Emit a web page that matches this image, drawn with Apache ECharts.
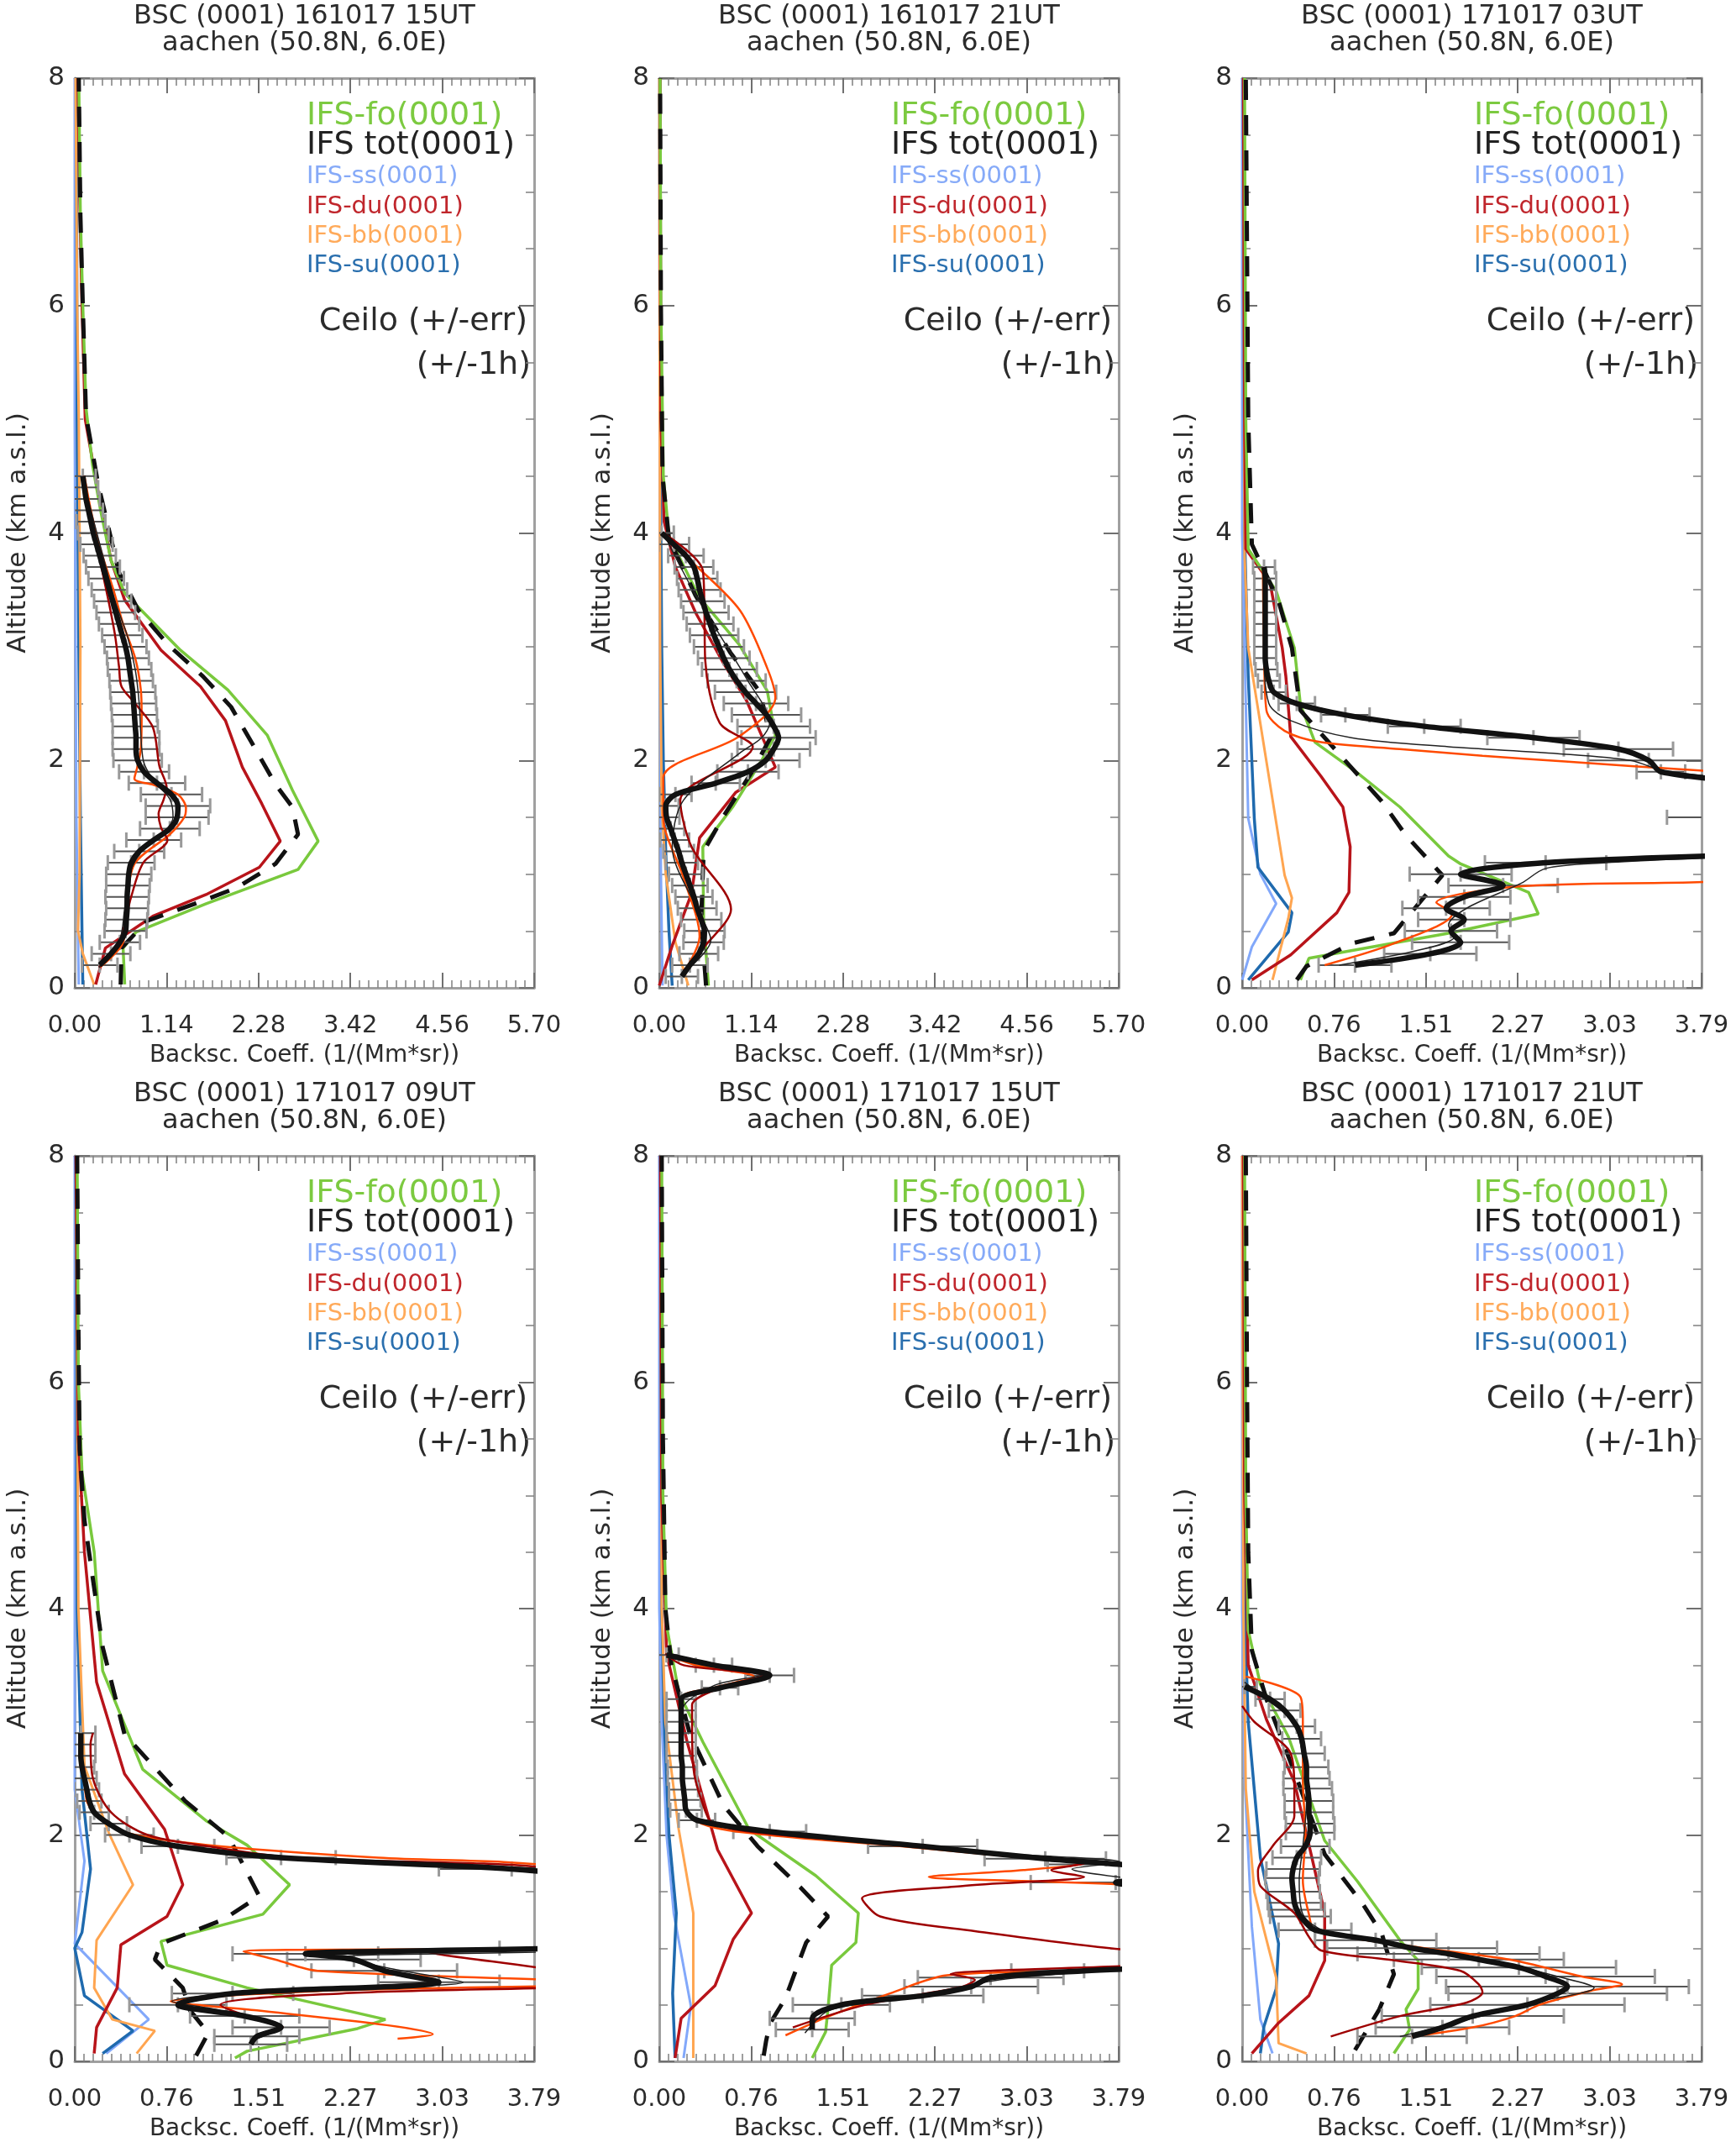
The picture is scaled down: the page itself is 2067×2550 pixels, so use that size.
<!DOCTYPE html>
<html>
<head>
<meta charset="utf-8" />
<title>BSC profiles aachen</title>
<style>
  html, body { margin: 0; padding: 0; background: #fff; }
  #main { width: 2067px; height: 2550px; }
</style>
</head>
<body>
<div id="main"></div>
<script src="https://cdn.jsdelivr.net/npm/echarts@6/dist/echarts.min.js"></script>
<script>
// tick labels
const X_WIDE = ['0.00', '1.14', '2.28', '3.42', '4.56', '5.70'];
const X_NARROW = ['0.00', '0.76', '1.51', '2.27', '3.03', '3.79'];
const Y_LABELS = ['0', '2', '4', '6', '8'];

const TITLES = [
  'BSC (0001) 161017 15UT', 'BSC (0001) 161017 21UT', 'BSC (0001) 171017 03UT',
  'BSC (0001) 171017 09UT', 'BSC (0001) 171017 15UT', 'BSC (0001) 171017 21UT'
];
const STATION = 'aachen (50.8N, 6.0E)';
const LEGEND_ROWS = ['IFS-fo(0001)', 'IFS tot(0001)', 'IFS-ss(0001)', 'IFS-du(0001)', 'IFS-bb(0001)', 'IFS-su(0001)'];

// ---- panel 1 : 161017 15UT  ([backscatter, altitude]) ----
const p1Fo = [[0.62,0.03],[0.60,0.35],[0.76,0.49],[1.63,0.74],[2.77,1.04],[3.02,1.29],[2.70,1.74],[2.39,2.22],[1.90,2.62],[1.31,2.97],[0.62,3.47],[0.45,3.76],[0.32,4.2],[0.22,4.6],[0.14,5.1],[0.10,6.0],[0.07,6.8],[0.05,8.0]];
const p1Tot = [[0.57,0.03],[0.58,0.35],[0.90,0.59],[1.49,0.74],[2.01,0.88],[2.49,1.09],[2.77,1.35],[2.70,1.59],[2.49,1.79],[2.25,2.09],[1.94,2.47],[1.59,2.74],[1.17,3.01],[0.79,3.32],[0.55,3.65],[0.29,4.43],[0.14,5.03],[0.10,6.0],[0.07,6.8],[0.05,8.0]];
const p1Du = [[0.26,0.03],[0.38,0.35],[0.97,0.63],[1.63,0.82],[2.29,1.06],[2.55,1.29],[2.32,1.62],[2.08,1.94],[1.87,2.35],[1.56,2.65],[1.07,2.97],[0.62,3.41],[0.45,3.76],[0.28,4.4],[0.13,5.0],[0.09,6.0],[0.06,7.0],[0.04,8.0]];
const p1Bb = [[0.24,0.03],[0.10,0.3],[0.04,0.5],[0.06,1.0],[0.07,3.0],[0.05,5.0],[0.03,6.0],[0.01,8.0]];
const p1Su = [[0.10,0.03],[0.09,0.5],[0.07,1.5],[0.05,3.0],[0.03,5.0],[0.02,8.0]];
const p1Ss = [[0.05,0.03],[0.04,0.5],[0.02,1.5],[0.01,3.0],[0.0,5.0],[0.0,8.0]];
// ceilometer [backscatter, altitude, error]
const p1Ceilo = [[0.31,0.2,0.22],[0.45,0.3,0.24],[0.56,0.4,0.25],[0.63,0.5,0.26],[0.64,0.6,0.26],[0.65,0.7,0.26],[0.65,0.8,0.27],[0.66,0.9,0.27],[0.67,1.0,0.28],[0.70,1.1,0.29],[0.80,1.2,0.31],[0.98,1.3,0.34],[1.18,1.4,0.37],[1.27,1.5,0.39],[1.28,1.6,0.4],[1.20,1.7,0.38],[1.02,1.8,0.35],[0.86,1.9,0.31],[0.78,2.0,0.3],[0.76,2.1,0.29],[0.76,2.2,0.29],[0.75,2.3,0.28],[0.74,2.4,0.28],[0.73,2.5,0.28],[0.72,2.6,0.28],[0.70,2.7,0.27],[0.68,2.8,0.27],[0.66,2.9,0.26],[0.63,3.0,0.26],[0.59,3.1,0.25],[0.55,3.2,0.25],[0.51,3.3,0.24],[0.47,3.4,0.23],[0.43,3.5,0.22],[0.39,3.6,0.22],[0.35,3.7,0.21],[0.31,3.8,0.2],[0.27,3.9,0.2],[0.23,4.0,0.19],[0.20,4.1,0.18],[0.17,4.2,0.18],[0.14,4.3,0.17],[0.12,4.4,0.17],[0.10,4.5,0.16]];
const p1ThinK = [[0.3,0.18],[0.55,0.4],[0.62,0.7],[0.68,1.0],[0.85,1.22],[1.12,1.38],[1.22,1.5],[1.18,1.66],[0.98,1.82],[0.85,2.0],[0.8,2.5],[0.75,2.8],[0.65,3.1],[0.5,3.4],[0.35,3.8],[0.2,4.2],[0.1,4.5]];
const p1ThinR = [[0.3,0.18],[0.55,0.4],[0.7,0.8],[0.85,1.1],[1.15,1.3],[1.07,1.41],[1.04,1.53],[1.1,1.65],[1.14,1.76],[1.05,1.95],[0.97,2.29],[0.75,2.5],[0.58,2.65],[0.55,2.82],[0.5,3.1],[0.42,3.4],[0.3,3.8],[0.18,4.2],[0.1,4.5]];
const p1ThinO = [[0.31,0.18],[0.6,0.4],[0.65,0.8],[0.75,1.1],[1.18,1.35],[1.36,1.5],[1.38,1.58],[1.28,1.7],[1.0,1.78],[0.74,1.84],[0.78,1.95],[0.82,2.1],[0.83,2.4],[0.82,2.62],[0.75,2.9],[0.6,3.2],[0.48,3.5],[0.3,3.9],[0.2,4.2],[0.12,4.5]];

// ---- panel 2 : 161017 21UT ----
const p2Fo = [[0.61,0.02],[0.55,0.6],[0.54,1.24],[0.92,1.60],[1.27,2.0],[1.44,2.22],[1.34,2.61],[0.99,3.02],[0.50,3.43],[0.12,3.97],[0.05,4.5],[0.02,6.0],[0.01,8.0]];
const p2Tot = [[0.58,0.02],[0.52,0.6],[0.55,1.2],[0.78,1.49],[1.15,1.9],[1.38,2.2],[1.25,2.6],[0.88,2.95],[0.45,3.45],[0.12,3.95],[0.04,4.5],[0.02,6.0],[0.01,8.0]];
const p2Du = [[0.0,0.02],[0.16,0.37],[0.40,0.83],[0.50,1.32],[0.95,1.72],[1.44,1.94],[1.08,2.53],[0.80,2.85],[0.45,3.3],[0.20,3.7],[0.06,4.1],[0.02,5.0],[0.01,8.0]];
const p2Bb = [[0.36,0.02],[0.20,0.4],[0.08,1.0],[0.03,1.6],[0.01,3.0],[0.0,8.0]];
const p2Su = [[0.16,0.02],[0.12,0.5],[0.08,1.2],[0.05,2.0],[0.03,3.0],[0.02,4.0],[0.01,8.0]];
const p2Ss = [[0.04,0.02],[0.02,1.0],[0.01,3.0],[0.0,8.0]];
const p2Ceilo = [[0.28,0.1,0.2],[0.38,0.2,0.22],[0.49,0.3,0.24],[0.55,0.4,0.25],[0.56,0.5,0.25],[0.52,0.6,0.25],[0.47,0.7,0.24],[0.43,0.8,0.23],[0.38,0.9,0.22],[0.33,1.0,0.21],[0.28,1.1,0.2],[0.24,1.2,0.19],[0.19,1.3,0.18],[0.14,1.4,0.17],[0.09,1.5,0.16],[0.08,1.6,0.16],[0.20,1.7,0.2],[0.70,1.8,0.3],[1.10,1.9,0.38],[1.32,2.0,0.42],[1.42,2.1,0.45],[1.48,2.2,0.46],[1.42,2.3,0.45],[1.33,2.4,0.43],[1.20,2.5,0.4],[1.07,2.6,0.38],[0.96,2.7,0.36],[0.87,2.8,0.34],[0.80,2.9,0.32],[0.74,3.0,0.31],[0.68,3.1,0.3],[0.63,3.2,0.29],[0.58,3.3,0.28],[0.54,3.4,0.27],[0.50,3.5,0.26],[0.47,3.6,0.25],[0.43,3.7,0.24],[0.33,3.8,0.22],[0.18,3.9,0.19],[0.03,4.0,0.15]];
const p2ThinK = [[0.33,0.15],[0.64,0.42],[0.47,0.69],[0.16,1.24],[0.3,1.65],[0.99,2.06],[1.27,2.2],[1.37,2.33],[1.09,2.71],[0.47,3.43],[0.05,4.0]];
const p2ThinR = [[0.3,0.15],[0.57,0.37],[0.89,0.69],[0.4,1.24],[0.26,1.65],[1.16,2.12],[0.75,2.33],[0.57,2.88],[0.56,3.3],[0.54,3.67],[0.05,4.0]];
const p2ThinO = [[0.3,0.13],[0.5,0.45],[0.3,0.97],[0.05,1.5],[0.05,1.85],[0.99,2.21],[1.44,2.55],[1.34,2.81],[1.0,3.32],[0.4,3.75],[0.04,4.0]];

// ---- panel 3 : 171017 03UT ----
const p3Fo = [[0.48,0.07],[0.55,0.26],[1.70,0.48],[2.44,0.65],[2.36,0.84],[1.80,1.09],[1.70,1.16],[1.30,1.59],[0.95,1.89],[0.60,2.16],[0.48,2.49],[0.43,2.99],[0.28,3.49],[0.05,3.86],[0.03,5.0],[0.02,8.0]];
const p3Tot = [[0.45,0.07],[0.53,0.19],[0.90,0.39],[1.25,0.48],[1.65,0.99],[1.35,1.34],[1.15,1.64],[0.88,1.96],[0.48,2.44],[0.41,2.99],[0.30,3.4],[0.08,3.9],[0.05,5.0],[0.04,6.5],[0.03,8.0]];
const p3Du = [[0.08,0.07],[0.40,0.29],[0.78,0.66],[0.88,0.84],[0.89,1.24],[0.83,1.59],[0.65,1.86],[0.40,2.21],[0.36,2.74],[0.33,2.99],[0.23,3.56],[0.03,3.86],[0.02,5.0],[0.01,8.0]];
const p3Bb = [[0.25,0.07],[0.38,0.61],[0.41,0.79],[0.35,0.99],[0.20,1.99],[0.05,2.99],[0.02,3.8],[0.01,8.0]];
const p3Su = [[0.05,0.07],[0.38,0.49],[0.41,0.66],[0.13,1.06],[0.10,1.49],[0.05,2.74],[0.02,4.0],[0.01,8.0]];
const p3Ss = [[0.0,0.07],[0.08,0.36],[0.28,0.74],[0.15,1.0],[0.05,1.49],[0.02,3.0],[0.0,4.0],[0.0,8.0]];
const p3Ceilo = [[0.93,0.2,0.3],[1.55,0.3,0.38],[1.80,0.4,0.4],[1.72,0.5,0.38],[1.83,0.6,0.38],[1.68,0.7,0.36],[1.83,0.8,0.38],[2.15,0.9,0.45],[1.80,1.0,0.42],[2.50,1.1,0.5],[4.6,1.2,0.6],[5.0,1.3,0.6],[5.0,1.4,0.6],[4.6,1.5,1.1],[5.0,1.6,0.6],[4.8,1.7,0.6],[4.2,1.8,0.3],[3.45,1.9,0.2],[3.35,2.0,0.5],[3.10,2.1,0.45],[2.40,2.2,0.38],[1.50,2.3,0.3],[0.85,2.4,0.2],[0.45,2.5,0.15],[0.26,2.6,0.1],[0.22,2.7,0.09],[0.20,2.8,0.09],[0.19,2.9,0.09],[0.19,3.0,0.09],[0.19,3.1,0.09],[0.19,3.2,0.09],[0.19,3.3,0.09],[0.19,3.4,0.09],[0.19,3.5,0.09],[0.19,3.6,0.09],[0.18,3.7,0.09]];
const p3ThinK = [[0.8,0.2],[1.45,0.33],[1.75,0.45],[1.7,0.55],[1.85,0.7],[2.3,0.92],[2.5,1.05],[3.0,1.1],[4.5,1.2],[6.0,1.5],[4.5,1.8],[3.5,1.9],[3.2,2.0],[2.6,2.06],[1.7,2.12],[0.9,2.2],[0.4,2.35],[0.22,2.5],[0.18,3.0],[0.18,3.7]];
const p3ThinR = [];
const p3ThinO = [[0.68,0.2],[1.25,0.39],[1.73,0.65],[1.6,0.75],[2.26,0.89],[3.8,0.93],[5.0,1.0],[5.5,1.4],[5.0,1.85],[3.8,1.91],[2.66,1.99],[1.98,2.04],[1.3,2.1],[0.65,2.16],[0.35,2.26],[0.2,2.44],[0.18,3.0],[0.17,3.7]];

// ---- panel 4 : 171017 09UT ----
const p4Fo = [[1.32,0.03],[1.42,0.09],[2.33,0.29],[2.56,0.37],[1.42,0.65],[0.76,0.85],[0.71,1.06],[1.55,1.30],[1.77,1.56],[1.42,1.91],[1.09,2.12],[0.56,2.58],[0.23,3.45],[0.16,4.5],[0.06,5.2],[0.03,6.0],[0.02,8.0]];
const p4Tot = [[1.0,0.05],[1.1,0.25],[0.95,0.45],[0.89,0.65],[0.66,0.9],[0.71,1.04],[1.22,1.25],[1.52,1.46],[1.27,1.98],[0.91,2.3],[0.41,2.89],[0.23,3.66],[0.08,4.78],[0.04,5.41],[0.03,6.5],[0.02,8.0]];
const p4Du = [[0.16,0.07],[0.18,0.3],[0.35,0.65],[0.38,1.03],[0.76,1.28],[0.89,1.56],[0.74,2.05],[0.41,2.54],[0.18,3.35],[0.08,4.5],[0.03,5.5],[0.01,8.0]];
const p4Bb = [[0.51,0.07],[0.66,0.27],[0.31,0.37],[0.16,0.65],[0.18,1.07],[0.48,1.56],[0.28,2.02],[0.08,2.61],[0.03,4.0],[0.01,8.0]];
const p4Su = [[0.23,0.07],[0.48,0.27],[0.08,0.58],[0.0,1.0],[0.06,1.14],[0.13,1.7],[0.06,2.4],[0.02,4.0],[0.01,8.0]];
const p4Ss = [[0.26,0.07],[0.61,0.37],[0.0,1.04],[0.08,1.77],[0.0,2.4],[0.0,8.0]];
const p4Ceilo = [[1.45,0.15,0.3],[1.50,0.22,0.35],[1.70,0.3,0.4],[1.40,0.4,0.45],[0.85,0.5,0.4],[1.30,0.6,0.5],[3.00,0.7,0.5],[2.55,0.8,0.6],[2.30,0.9,0.55],[1.90,0.95,0.6],[4.0,1.0,0.5],[6.0,1.1,0.8],[7.0,1.2,1.0],[7.0,1.3,1.0],[7.0,1.4,1.0],[6.0,1.5,0.8],[4.6,1.6,0.7],[3.6,1.7,0.6],[1.70,1.8,0.45],[0.85,1.9,0.3],[0.45,2.0,0.2],[0.28,2.1,0.15],[0.16,2.2,0.12],[0.12,2.3,0.1],[0.10,2.4,0.1],[0.08,2.5,0.1],[0.06,2.6,0.1],[0.05,2.7,0.12],[0.05,2.8,0.12],[0.05,2.9,0.12]];
const p4ThinK = [[1.5,0.2],[1.7,0.3],[1.2,0.45],[0.8,0.53],[1.5,0.62],[3.2,0.7],[2.6,0.82],[2.2,0.92],[4.5,1.0],[6.0,1.3],[4.5,1.65],[2.4,1.76],[1.2,1.86],[0.6,1.95],[0.3,2.08],[0.15,2.25],[0.08,2.5],[0.05,2.8]];
const p4ThinR = [[1.72,0.3],[1.2,0.5],[2.2,0.6],[4.5,0.69],[4.0,0.8],[2.9,0.97],[5.0,1.02],[6.0,1.3],[4.0,1.7],[1.8,1.8],[1.1,1.9],[0.6,2.0],[0.3,2.2],[0.15,2.5],[0.13,2.8],[0.15,2.9]];
const p4ThinO = [[2.66,0.2],[2.95,0.24],[2.57,0.32],[1.5,0.45],[0.79,0.53],[2.0,0.62],[4.5,0.69],[2.0,0.8],[1.65,0.9],[1.39,0.97],[5.0,1.02],[6.0,1.3],[4.0,1.72],[2.5,1.8],[1.2,1.9],[0.5,2.0],[0.28,2.1],[0.1,2.3],[0.08,2.6]];

// ---- panel 5 : 171017 15UT ----
const p5Fo = [[1.26,0.03],[1.37,0.26],[1.39,0.46],[1.42,0.85],[1.62,1.05],[1.64,1.31],[1.29,1.64],[0.74,2.05],[0.36,2.82],[0.16,3.26],[0.06,3.85],[0.03,5.0],[0.02,8.0]];
const p5Tot = [[0.86,0.05],[0.88,0.18],[0.91,0.33],[1.04,0.56],[1.21,1.05],[1.39,1.28],[1.16,1.54],[0.81,1.9],[0.53,2.26],[0.25,2.9],[0.10,3.5],[0.05,4.0],[0.03,5.5],[0.02,8.0]];
const p5Du = [[0.13,0.03],[0.18,0.38],[0.46,0.67],[0.61,1.08],[0.76,1.31],[0.48,1.87],[0.23,2.82],[0.06,3.6],[0.02,5.0],[0.01,8.0]];
const p5Bb = [[0.28,0.03],[0.28,0.6],[0.28,1.31],[0.16,2.05],[0.05,3.0],[0.02,4.0],[0.01,8.0]];
const p5Su = [[0.13,0.03],[0.11,0.6],[0.14,1.31],[0.08,2.0],[0.04,3.0],[0.02,4.0],[0.01,8.0]];
const p5Ss = [[0.20,0.03],[0.26,0.49],[0.12,1.3],[0.06,2.0],[0.02,3.0],[0.0,4.0],[0.0,8.0]];
const p5Ceilo = [[1.26,0.28,0.3],[1.26,0.38,0.35],[1.50,0.5,0.4],[2.17,0.58,0.5],[2.57,0.66,0.55],[2.73,0.74,0.6],[3.50,0.8,0.6],[4.60,0.85,0.8],[6.0,0.95,1.0],[7.0,1.1,1.0],[7.0,1.25,1.0],[6.0,1.4,1.0],[4.60,1.5,0.8],[3.76,1.58,0.7],[4.50,1.65,0.7],[3.80,1.74,0.6],[3.18,1.79,0.5],[2.17,1.9,0.45],[0.91,2.03,0.3],[0.31,2.13,0.15],[0.22,2.22,0.13],[0.21,2.31,0.13],[0.20,2.4,0.12],[0.19,2.5,0.12],[0.19,2.6,0.12],[0.18,2.7,0.12],[0.18,2.82,0.12],[0.18,2.9,0.12],[0.18,3.0,0.12],[0.18,3.1,0.12],[0.18,3.2,0.12],[0.50,3.3,0.15],[0.91,3.41,0.2],[0.45,3.5,0.15],[0.06,3.59,0.1]];
const p5ThinK = [[1.2,0.25],[1.4,0.45],[2.2,0.6],[2.8,0.72],[3.6,0.8],[5.0,0.9],[6.0,1.3],[4.0,1.6],[3.4,1.7],[3.8,1.76],[2.6,1.85],[1.4,1.97],[0.5,2.08],[0.22,2.2],[0.2,2.6],[0.19,3.1],[0.45,3.32],[0.85,3.42],[0.3,3.52],[0.05,3.6]];
const p5ThinR = [[1.1,0.3],[1.7,0.5],[2.5,0.66],[2.6,0.72],[2.4,0.77],[4.0,0.85],[5.0,0.92],[3.8,0.99],[2.6,1.15],[1.82,1.28],[1.67,1.44],[2.5,1.55],[3.5,1.63],[3.23,1.69],[3.5,1.75],[3.0,1.8],[2.2,1.9],[1.0,2.0],[0.45,2.1],[0.35,2.3],[0.28,2.6],[0.27,3.0],[0.27,3.15],[0.5,3.3],[0.85,3.41],[0.2,3.5],[0.05,3.6]];
const p5ThinO = [[1.04,0.23],[1.4,0.4],[1.9,0.6],[2.37,0.76],[3.5,0.8],[5.0,0.9],[5.0,1.4],[4.0,1.55],[2.22,1.63],[3.0,1.69],[3.5,1.75],[3.0,1.8],[2.0,1.9],[0.9,2.0],[0.35,2.1],[0.2,2.3],[0.18,3.2],[0.45,3.3],[0.78,3.4],[0.3,3.5],[0.05,3.6]];

// ---- panel 6 : 171017 21UT ----
const p6Fo = [[1.25,0.07],[1.38,0.28],[1.35,0.46],[1.45,0.64],[1.45,0.89],[1.30,1.07],[0.95,1.59],[0.68,1.95],[0.38,2.87],[0.15,3.33],[0.05,3.81],[0.03,5.0],[0.02,8.0]];
const p6Tot = [[0.93,0.1],[1.13,0.46],[1.25,0.77],[1.15,1.13],[1.0,1.38],[0.68,1.83],[0.45,2.5],[0.20,3.2],[0.08,3.63],[0.05,4.5],[0.04,6.0],[0.03,8.0]];
const p6Du = [[0.08,0.07],[0.30,0.34],[0.55,0.58],[0.68,0.89],[0.68,1.31],[0.43,2.47],[0.20,3.02],[0.05,3.5],[0.02,5.0],[0.01,8.0]];
const p6Bb = [[0.53,0.07],[0.30,0.16],[0.28,0.74],[0.18,1.16],[0.10,1.5],[0.03,2.41],[0.01,4.0],[0.0,8.0]];
const p6Su = [[0.15,0.07],[0.18,0.31],[0.28,0.64],[0.30,1.04],[0.15,1.8],[0.05,3.0],[0.02,4.0],[0.01,8.0]];
const p6Ss = [[0.25,0.07],[0.15,0.37],[0.08,1.19],[0.02,2.5],[0.0,4.0],[0.0,8.0]];
const p6Ceilo = [[1.40,0.22,0.45],[1.65,0.3,0.55],[1.90,0.4,0.75],[2.35,0.5,0.8],[2.60,0.6,0.9],[2.68,0.66,1.0],[2.50,0.75,0.9],[2.28,0.83,0.8],[1.95,0.9,0.7],[1.70,0.95,0.75],[1.40,1.0,0.7],[1.10,1.07,0.5],[0.60,1.16,0.3],[0.48,1.28,0.25],[0.45,1.34,0.23],[0.43,1.4,0.22],[0.42,1.5,0.22],[0.41,1.62,0.22],[0.42,1.7,0.22],[0.45,1.8,0.2],[0.52,1.9,0.2],[0.56,2.02,0.2],[0.56,2.1,0.2],[0.55,2.2,0.2],[0.55,2.3,0.2],[0.54,2.41,0.2],[0.53,2.5,0.19],[0.53,2.6,0.18],[0.51,2.72,0.17],[0.49,2.85,0.16],[0.45,2.96,0.15],[0.35,3.1,0.13],[0.23,3.2,0.12],[0.02,3.31,0.1]];
const p6ThinK = [[1.3,0.22],[1.9,0.38],[2.4,0.52],[2.9,0.65],[2.6,0.75],[2.1,0.88],[1.3,1.02],[0.7,1.14],[0.5,1.3],[0.47,1.6],[0.5,1.9],[0.53,2.3],[0.5,2.7],[0.42,3.0],[0.2,3.2],[0.02,3.35]];
const p6ThinR = [[0.73,0.22],[1.3,0.4],[1.85,0.52],[1.98,0.61],[1.95,0.68],[1.8,0.8],[1.2,0.9],[0.65,0.98],[0.55,1.1],[0.43,1.31],[0.15,1.55],[0.13,1.68],[0.25,1.9],[0.43,2.17],[0.43,2.4],[0.4,2.72],[0.1,3.0],[0.0,3.14]];
const p6ThinO = [[1.4,0.22],[1.9,0.3],[2.25,0.4],[2.45,0.5],[2.9,0.63],[3.13,0.68],[2.8,0.75],[2.2,0.9],[1.5,1.0],[0.6,1.16],[0.55,1.3],[0.5,1.6],[0.52,2.0],[0.5,2.5],[0.5,3.0],[0.48,3.22],[0.03,3.4]];

const panels = [
  { title: TITLES[0], ticks: X_WIDE, max: 5.70, interval: 1.14, fo: p1Fo, tot: p1Tot, du: p1Du, bb: p1Bb, su: p1Su, ss: p1Ss, ceilo: p1Ceilo, thinK: p1ThinK, thinR: p1ThinR, thinO: p1ThinO },
  { title: TITLES[1], ticks: X_WIDE, max: 5.70, interval: 1.14, fo: p2Fo, tot: p2Tot, du: p2Du, bb: p2Bb, su: p2Su, ss: p2Ss, ceilo: p2Ceilo, thinK: p2ThinK, thinR: p2ThinR, thinO: p2ThinO },
  { title: TITLES[2], ticks: X_NARROW, max: 3.785, interval: 0.757, fo: p3Fo, tot: p3Tot, du: p3Du, bb: p3Bb, su: p3Su, ss: p3Ss, ceilo: p3Ceilo, thinK: p3ThinK, thinR: p3ThinR, thinO: p3ThinO },
  { title: TITLES[3], ticks: X_NARROW, max: 3.785, interval: 0.757, fo: p4Fo, tot: p4Tot, du: p4Du, bb: p4Bb, su: p4Su, ss: p4Ss, ceilo: p4Ceilo, thinK: p4ThinK, thinR: p4ThinR, thinO: p4ThinO },
  { title: TITLES[4], ticks: X_NARROW, max: 3.785, interval: 0.757, fo: p5Fo, tot: p5Tot, du: p5Du, bb: p5Bb, su: p5Su, ss: p5Ss, ceilo: p5Ceilo, thinK: p5ThinK, thinR: p5ThinR, thinO: p5ThinO },
  { title: TITLES[5], ticks: X_NARROW, max: 3.785, interval: 0.757, fo: p6Fo, tot: p6Tot, du: p6Du, bb: p6Bb, su: p6Su, ss: p6Ss, ceilo: p6Ceilo, thinK: p6ThinK, thinR: p6ThinR, thinO: p6ThinO }
];

// layout
const COL_LEFT = [89, 785, 1479];
const ROW_TOP = [93, 1376];
const PW = 547, PH = 1083;
const FONT = '"DejaVu Sans", sans-serif';
const TXT = '#2b2b2b';
const COLORS = { fo: '#79c93d', tot: '#111111', ss: '#82a8fa', du: '#b8141a', bb: '#ffa550', su: '#1f6aae' };
const LEGEND_COLORS = ['#7cca40', '#222222', '#86aaf8', '#c0262c', '#ffaa5a', '#2a6fae'];
const LEGEND_SIZE = [38, 38, 29, 29, 29, 29];
const LEGEND_DY = [45, 80, 117, 153, 188, 223];

const grids = [], xAxes = [], yAxes = [], series = [], graphics = [];

const frameLine = { show: true, onZero: false, lineStyle: { color: '#a0a0a0', width: 3 } };
const tick = { show: true, inside: true, length: 18, lineStyle: { color: '#707070', width: 2 } };

panels.forEach((p, g) => {
  const left = COL_LEFT[g % 3], top = ROW_TOP[Math.floor(g / 3)];
  grids.push({ left, top, width: PW, height: PH, containLabel: false });

  const xCommon = {
    type: 'value', gridIndex: g, min: 0, max: p.max, interval: p.interval,
    splitLine: { show: false }, axisLine: frameLine, axisTick: tick,
    minorTick: { show: true, splitNumber: 10, length: 9, lineStyle: { color: '#808080', width: 1.5 } }
  };
  xAxes.push(Object.assign({}, xCommon, {
    position: 'bottom',
    axisLabel: { show: true, margin: 31, color: TXT, fontSize: 29, fontFamily: FONT,
      formatter: v => p.ticks[Math.round(v / p.interval)] },
    name: 'Backsc. Coeff. (1/(Mm*sr))', nameLocation: 'middle', nameGap: 67,
    nameTextStyle: { color: TXT, fontSize: 28, fontFamily: FONT }
  }));
  xAxes.push(Object.assign({}, xCommon, { position: 'top', axisLabel: { show: false } }));

  const yCommon = {
    type: 'value', gridIndex: g, min: 0, max: 8, interval: 2,
    splitLine: { show: false }, axisLine: frameLine, axisTick: tick,
    minorTick: { show: true, splitNumber: 4, length: 10, lineStyle: { color: '#808080', width: 1.5 } }
  };
  yAxes.push(Object.assign({}, yCommon, {
    position: 'left',
    axisLabel: { show: true, margin: 12, color: TXT, fontSize: 31, fontFamily: FONT,
      formatter: v => Y_LABELS[Math.round(v / 2)] },
    name: 'Altitude (km a.s.l.)', nameLocation: 'middle', nameGap: 52, nameRotate: 90,
    nameTextStyle: { color: TXT, fontSize: 31, fontFamily: FONT }
  }));
  yAxes.push(Object.assign({}, yCommon, { position: 'right', axisLabel: { show: false } }));

  const xi = 2 * g, yi = 2 * g;
  const line = (data, color, width, extra) => Object.assign({
    type: 'line', xAxisIndex: xi, yAxisIndex: yi, data, showSymbol: false, symbol: 'none',
    clip: true, lineStyle: { color, width }, z: 3, silent: true
  }, extra || {});

  series.push(line(p.ss, COLORS.ss, 3));
  series.push(line(p.su, COLORS.su, 3.5));
  series.push(line(p.bb, COLORS.bb, 3));
  series.push(line(p.du, COLORS.du, 3.5));
  series.push(line(p.fo, COLORS.fo, 3.5));
  series.push(line(p.tot, COLORS.tot, 5, { lineStyle: { color: COLORS.tot, width: 5, type: [24, 18], cap: 'butt' } }));

  // error bars of the ceilometer
  series.push({
    type: 'custom', xAxisIndex: xi, yAxisIndex: yi, data: p.ceilo, clip: true, z: 4, silent: true,
    encode: { x: 0, y: 1 },
    renderItem: (params, api) => {
      const x = api.value(0), y = api.value(1), e = api.value(2);
      const c = api.coord([x, y]);
      const l = api.coord([x - e, y]);
      const r = api.coord([x + e, y]);
      const h = 9;
      const bar = { stroke: '#555555', lineWidth: 2, fill: null };
      const cap = { stroke: '#999999', lineWidth: 3, fill: null };
      return {
        type: 'group', children: [
          { type: 'line', shape: { x1: l[0], y1: c[1], x2: r[0], y2: c[1] }, style: bar },
          { type: 'line', shape: { x1: l[0], y1: c[1] - h, x2: l[0], y2: c[1] + h }, style: cap },
          { type: 'line', shape: { x1: r[0], y1: c[1] - h, x2: r[0], y2: c[1] + h }, style: cap },
          { type: 'line', shape: { x1: c[0], y1: c[1] - h, x2: c[0], y2: c[1] + h }, style: cap }
        ]
      };
    }
  });

  series.push(line(p.thinO, '#ff4a00', 2.5, { smooth: 0.3, z: 5 }));
  series.push(line(p.thinR, '#9e0000', 2.5, { smooth: 0.3, z: 5 }));
  series.push(line(p.thinK, '#222222', 1.5, { smooth: 0.3, z: 5 }));
  series.push(line(p.ceilo.map(d => [d[0], d[1]]), '#111111', 6.5, { smooth: 0.3, z: 6 }));

  // titles and legend texts
  const cx = left + PW / 2;
  graphics.push({ type: 'text', x: cx, y: top - 73, silent: true,
    style: { text: p.title, fill: TXT, font: '32px ' + FONT, textAlign: 'center', textVerticalAlign: 'middle' } });
  graphics.push({ type: 'text', x: cx, y: top - 41, silent: true,
    style: { text: STATION, fill: TXT, font: '32px ' + FONT, textAlign: 'center', textVerticalAlign: 'middle' } });
  LEGEND_ROWS.forEach((t, k) => {
    graphics.push({ type: 'text', x: left + 276, y: top + LEGEND_DY[k], silent: true,
      style: { text: t, fill: LEGEND_COLORS[k], font: LEGEND_SIZE[k] + 'px ' + FONT, textAlign: 'left', textVerticalAlign: 'middle' } });
  });
  graphics.push({ type: 'text', x: left + PW - 8, y: top + 290, silent: true,
    style: { text: 'Ceilo (+/-err)', fill: TXT, font: '38px ' + FONT, textAlign: 'right', textVerticalAlign: 'middle' } });
  graphics.push({ type: 'text', x: left + PW - 4, y: top + 342, silent: true,
    style: { text: '(+/-1h)', fill: TXT, font: '38px ' + FONT, textAlign: 'right', textVerticalAlign: 'middle' } });
});

const chart = echarts.init(document.getElementById('main'));
chart.setOption({
  backgroundColor: '#ffffff',
  animation: false,
  grid: grids,
  xAxis: xAxes,
  yAxis: yAxes,
  series,
  graphic: graphics
});
</script>
</body>
</html>
